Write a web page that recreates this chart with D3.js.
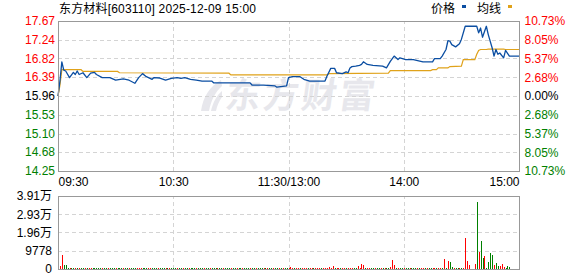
<!DOCTYPE html>
<html>
  <head>
    <meta charset="utf-8">
    <style>
      body { margin: 0; background: #fff; }
      svg { display: block; font-family: "Liberation Sans", Arial, "Noto Sans CJK SC", sans-serif; }
    </style>
  </head>
  <body>
    <script src="https://d3js.org/d3.v7.min.js"></script>
    <script>
      const width = 578;
      const height = 276;

      const title = '东方材料[603110] 2025-12-09 15:00';
      const preClose = 15.96;
      const priceTicks = [17.67, 17.24, 16.82, 16.39, 15.96, 15.53, 15.10, 14.68, 14.25];
      const pctTicks = [10.73, 8.05, 5.37, 2.68, 0, -2.68, -5.37, -8.05, -10.73];
      const volTicks = [39100, 29300, 19600, 9778, 0];
      const volTickLabels = ['3.91万', '2.93万', '1.96万', '9778', '0'];
      const timeTicks = [0, 60, 120, 180, 240];
      const timeLabels = ['09:30', '10:30', '11:30/13:00', '14:00', '15:00'];

      // [minute, price]
      const pricePoints = [
        [0, 15.96], [1, 16.30], [2, 16.74], [3, 16.55], [4, 16.53], [6, 16.38], [8, 16.50], [9, 16.45],
        [10, 16.53], [11, 16.45], [13, 16.49], [15, 16.38], [17, 16.48], [19, 16.50], [20, 16.45],
        [23, 16.38], [27, 16.38], [30, 16.32], [34, 16.35], [37, 16.32], [40, 16.25], [42, 16.38],
        [44, 16.47], [46, 16.40], [49, 16.34], [50, 16.38], [53, 16.37], [56, 16.32], [59, 16.36],
        [62, 16.38], [64, 16.36], [66, 16.38], [69, 16.34], [72, 16.32], [75, 16.30], [80, 16.30],
        [81, 16.26], [90, 16.26], [100, 16.26], [101, 16.21], [107, 16.21], [113, 16.19], [114, 16.16],
        [119, 16.19], [120, 16.38], [122, 16.40], [126, 16.40], [128, 16.34], [131, 16.30], [139, 16.30],
        [140, 16.41], [142, 16.59], [144, 16.59], [145, 16.49], [148, 16.47], [150, 16.51], [151, 16.49],
        [152, 16.60], [153, 16.63], [155, 16.64], [157, 16.66], [158, 16.68], [159, 16.74], [161, 16.68],
        [164, 16.66], [169, 16.64], [171, 16.60], [173, 16.75], [175, 16.87], [177, 16.79], [178, 16.83],
        [181, 16.79], [185, 16.79], [190, 16.74], [195, 16.74], [196, 16.81], [199, 16.81], [200, 16.87],
        [202, 17.02], [203, 17.22], [204, 17.21], [205, 17.13], [207, 17.08], [209, 17.15], [210, 17.25],
        [212, 17.55], [218, 17.55], [219, 17.40], [220, 17.51], [221, 17.30], [223, 17.55], [224, 17.36],
        [226, 17.06], [227, 16.87], [228, 17.02], [229, 16.91], [230, 16.94], [232, 16.83], [233, 17.00],
        [235, 16.87], [240, 16.87]
      ];

      // [minute, average price]
      const avgPoints = [
        [0, 15.96], [1, 16.20], [2, 16.56], [12, 16.56], [13, 16.52], [31, 16.52], [32, 16.49],
        [89, 16.48], [90, 16.44], [140, 16.44], [141, 16.47], [172, 16.48], [173, 16.54], [194, 16.54],
        [195, 16.56], [197, 16.56], [198, 16.60], [203, 16.60], [204, 16.63], [210, 16.64], [211, 16.79],
        [217, 16.79], [218, 16.91], [219, 17.00], [220, 17.02], [223, 17.02], [224, 17.03], [232, 17.03],
        [233, 17.02], [240, 17.02]
      ];

      // volume per minute (0..240)
      const volumes = [
        500, 1400, 7400, 2100, 2100, 600, 500, 400, 500, 400, 400, 500, 400, 400, 500, 400, 400, 500, 400, 400,
        400, 500, 400, 400, 400, 500, 400, 400, 500, 400, 400, 400, 500, 400, 400, 400, 500, 400, 400, 400,
        500, 400, 600, 500, 400, 400, 500, 400, 400, 400, 500, 400, 400, 400, 500, 400, 400, 400, 500, 400,
        400, 400, 500, 400, 400, 400, 500, 400, 400, 400, 400, 500, 400, 400, 400, 400, 500, 400, 400, 400,
        500, 400, 400, 400, 400, 500, 400, 400, 400, 400, 500, 400, 400, 400, 400, 500, 400, 400, 400, 400,
        400, 400, 500, 400, 400, 400, 400, 500, 400, 400, 400, 400, 500, 400, 400, 400, 400, 500, 400, 500,
        500, 900, 500, 400, 500, 400, 400, 500, 400, 400, 500, 400, 400, 500, 400, 400, 500, 400, 400, 500,
        400, 900, 500, 1700, 800, 500, 400, 500, 400, 400, 500, 400, 800, 600, 400, 500, 1400, 500, 2600, 2100,
        400, 500, 400, 400, 500, 400, 400, 400, 500, 400, 400, 400, 500, 900, 4800, 2100, 400, 500, 400, 400,
        400, 500, 400, 400, 400, 500, 400, 400, 400, 500, 400, 400, 500, 400, 400, 400, 500, 400, 400, 500,
        600, 5300, 500, 4200, 3700, 1000, 400, 500, 400, 400, 500, 400, 16400, 4400, 2100, 0, 0, 2600, 35900, 9000,
        14800, 5800, 6900, 500, 3700, 8400, 7400, 2100, 3200, 1600, 1600, 2600, 1000, 500, 1600, 1000, 0, 0, 0, 0, 1600
      ];

      // 1 = up (red), 0 = down (green)
      const volumeUp = [
        1, 1, 1, 0, 0, 0, 1, 0, 0, 1, 0, 1, 0, 0, 1, 0, 1, 1, 0, 0,
        0, 0, 0, 1, 0, 0, 1, 0, 0, 0, 1, 0, 0, 0, 1, 0, 0, 1, 0, 0,
        0, 1, 1, 1, 0, 0, 0, 1, 1, 0, 0, 0, 1, 0, 0, 0, 1, 0, 1, 0,
        0, 0, 1, 0, 0, 1, 0, 0, 1, 0, 0, 0, 1, 0, 0, 0, 1, 0, 0, 1,
        0, 0, 0, 1, 0, 0, 1, 0, 0, 0, 1, 0, 0, 1, 0, 0, 1, 0, 0, 0,
        1, 0, 0, 1, 0, 0, 0, 1, 0, 1, 0, 0, 1, 0, 0, 1, 0, 1, 0, 0,
        1, 1, 1, 0, 1, 1, 0, 1, 1, 1, 0, 1, 1, 0, 1, 1, 1, 0, 1, 1,
        1, 1, 1, 1, 0, 1, 1, 0, 1, 1, 0, 1, 1, 1, 0, 0, 1, 1, 1, 1,
        0, 1, 1, 0, 0, 1, 0, 0, 1, 0, 1, 0, 0, 1, 1, 1, 0, 1, 0, 0,
        1, 0, 0, 1, 0, 0, 0, 1, 0, 1, 1, 0, 1, 0, 0, 1, 1, 0, 1, 1,
        0, 1, 0, 1, 0, 0, 1, 0, 0, 1, 0, 1, 1, 1, 1, 0, 0, 1, 0, 1,
        0, 0, 1, 0, 0, 0, 0, 1, 0, 0, 1, 1, 1, 0, 0, 0, 0, 0, 0, 0, 1
      ];

      const red = '#ff0000';
      const green = '#008000';
      const gridColor = '#d4d4d4';
      const borderColor = '#999999';

      const plotLeft = 58, plotRight = 519, plotTop = 21, plotBottom = 171;
      const volTop = 196, volBottom = 269;

      const x = d3.scaleLinear().domain([0, 240]).range([plotLeft, plotRight]);
      const yPrice = d3.scaleLinear().domain([14.25, 17.67]).range([plotBottom, plotTop]);
      const yPct = d3.scaleLinear().domain([-10.73, 10.73]).range([plotBottom, plotTop]);
      const yVol = d3.scaleLinear().domain([0, 39100]).range([volBottom, volTop]);

      const svg = d3.select('body')
        .append('svg')
        .attr('width', width)
        .attr('height', height);

      // watermark
      const wm = svg.append('g').attr('fill', '#e7e7ec');
      wm.append('path')
        .attr('d', 'M201,111 C203,97 210,86 221,80 L222,86 C215,92 211,101 209,111 Z M211,111 C213,102 217,95 222,91 L222,97 C219,101 217,106 216,111 Z');
      wm.append('text')
        .attr('transform', 'translate(224,108) skewX(-8)')
        .attr('font-family', '"Noto Sans CJK SC", sans-serif')
        .attr('font-weight', 'bold')
        .attr('font-size', 35)
        .attr('letter-spacing', 3)
        .text('东方财富');

      function styleGrid(g) {
        g.select('.domain').remove();
        g.selectAll('line')
          .attr('stroke', gridColor)
          .attr('stroke-dasharray', '4,3')
          .attr('shape-rendering', 'crispEdges');
      }

      // price grid
      svg.append('g')
        .attr('transform', `translate(${plotLeft},0)`)
        .call(d3.axisLeft(yPrice).tickValues(priceTicks.slice(1, -1)).tickSize(-(plotRight - plotLeft)).tickFormat(''))
        .call(styleGrid);
      svg.append('g')
        .attr('transform', `translate(0,${plotBottom})`)
        .call(d3.axisBottom(x).tickValues(timeTicks.slice(1, -1)).tickSize(-(plotBottom - plotTop)).tickFormat(''))
        .call(styleGrid);

      // volume grid
      svg.append('g')
        .attr('transform', `translate(${plotLeft},0)`)
        .call(d3.axisLeft(yVol).tickValues(volTicks.slice(1, -1)).tickSize(-(plotRight - plotLeft)).tickFormat(''))
        .call(styleGrid);
      svg.append('g')
        .attr('transform', `translate(0,${volBottom})`)
        .call(d3.axisBottom(x).tickValues(timeTicks.slice(1, -1)).tickSize(-(volBottom - volTop)).tickFormat(''))
        .call(styleGrid);

      // lines
      const line = d3.line()
        .x((d) => x(d[0]))
        .y((d) => yPrice(d[1]));

      svg.append('path')
        .datum(avgPoints)
        .attr('fill', 'none')
        .attr('stroke', '#e0a21a')
        .attr('stroke-width', 1.2)
        .attr('d', line);

      svg.append('path')
        .datum(pricePoints)
        .attr('fill', 'none')
        .attr('stroke', '#0b4ea2')
        .attr('stroke-width', 1.3)
        .attr('stroke-linejoin', 'round')
        .attr('d', line);

      // volume bars
      svg.append('g')
        .attr('shape-rendering', 'crispEdges')
        .selectAll('rect')
        .data(volumes.map((v, i) => ({ i, v, up: volumeUp[i] })).filter((d) => d.v > 0))
        .enter()
        .append('rect')
        .attr('x', (d) => Math.round(x(d.i)))
        .attr('y', (d) => Math.min(Math.round(yVol(d.v)), volBottom - 1))
        .attr('width', 1)
        .attr('height', (d) => volBottom - Math.min(Math.round(yVol(d.v)), volBottom - 1))
        .attr('fill', (d) => (d.up ? red : green));

      // borders
      svg.append('rect')
        .attr('x', plotLeft + 0.5).attr('y', plotTop + 0.5)
        .attr('width', plotRight - plotLeft).attr('height', plotBottom - plotTop)
        .attr('fill', 'none').attr('stroke', borderColor);
      svg.append('rect')
        .attr('x', plotLeft + 0.5).attr('y', volTop + 0.5)
        .attr('width', plotRight - plotLeft).attr('height', volBottom - volTop)
        .attr('fill', 'none').attr('stroke', borderColor);

      function styleLabels(g) {
        g.select('.domain').remove();
        g.selectAll('line').remove();
        g.attr('font-family', null).attr('font-size', 12);
      }

      const priceColor = (v) => (v > preClose ? red : v < preClose ? green : '#000');

      svg.append('g')
        .attr('transform', `translate(${plotLeft},0)`)
        .call(d3.axisLeft(yPrice).tickValues(priceTicks).tickSize(0).tickPadding(3)
          .tickFormat((d) => d.toFixed(2)))
        .call(styleLabels)
        .selectAll('text')
        .attr('fill', (d) => priceColor(d));

      svg.append('g')
        .attr('transform', `translate(${plotRight},0)`)
        .call(d3.axisRight(yPct).tickValues(pctTicks).tickSize(0).tickPadding(5.5)
          .tickFormat((d) => Math.abs(d).toFixed(2) + '%'))
        .call(styleLabels)
        .selectAll('text')
        .attr('fill', (d) => (d > 0 ? red : d < 0 ? green : '#000'));

      svg.append('g')
        .attr('transform', `translate(${plotLeft},0)`)
        .call(d3.axisLeft(yVol).tickValues(volTicks).tickSize(0).tickPadding(6)
          .tickFormat((d, i) => volTickLabels[i]))
        .call(styleLabels)
        .selectAll('text')
        .attr('fill', '#000');

      const timeAxis = svg.append('g')
        .attr('transform', `translate(0,${plotBottom})`)
        .call(d3.axisBottom(x).tickValues(timeTicks).tickSize(0).tickPadding(6)
          .tickFormat((d, i) => timeLabels[i]))
        .call(styleLabels);
      timeAxis.selectAll('text')
        .attr('fill', '#000')
        .attr('text-anchor', (d, i) => (i === 0 ? 'start' : i === timeTicks.length - 1 ? 'end' : 'middle'));

      // title and legend
      svg.append('text')
        .attr('x', 59)
        .attr('y', 13)
        .attr('font-size', 12)
        .attr('textLength', 197)
        .attr('lengthAdjust', 'spacing')
        .text(title);

      const legend = svg.append('g').attr('font-size', 12);
      legend.append('text').attr('x', 431).attr('y', 13).text('价格');
      legend.append('rect').attr('x', 462).attr('y', 5).attr('width', 4).attr('height', 3).attr('fill', '#0b4ea2');
      legend.append('text').attr('x', 477).attr('y', 13).text('均线');
      legend.append('rect').attr('x', 508).attr('y', 5).attr('width', 4).attr('height', 3).attr('fill', '#e0a21a');
    </script>
  </body>
</html>
